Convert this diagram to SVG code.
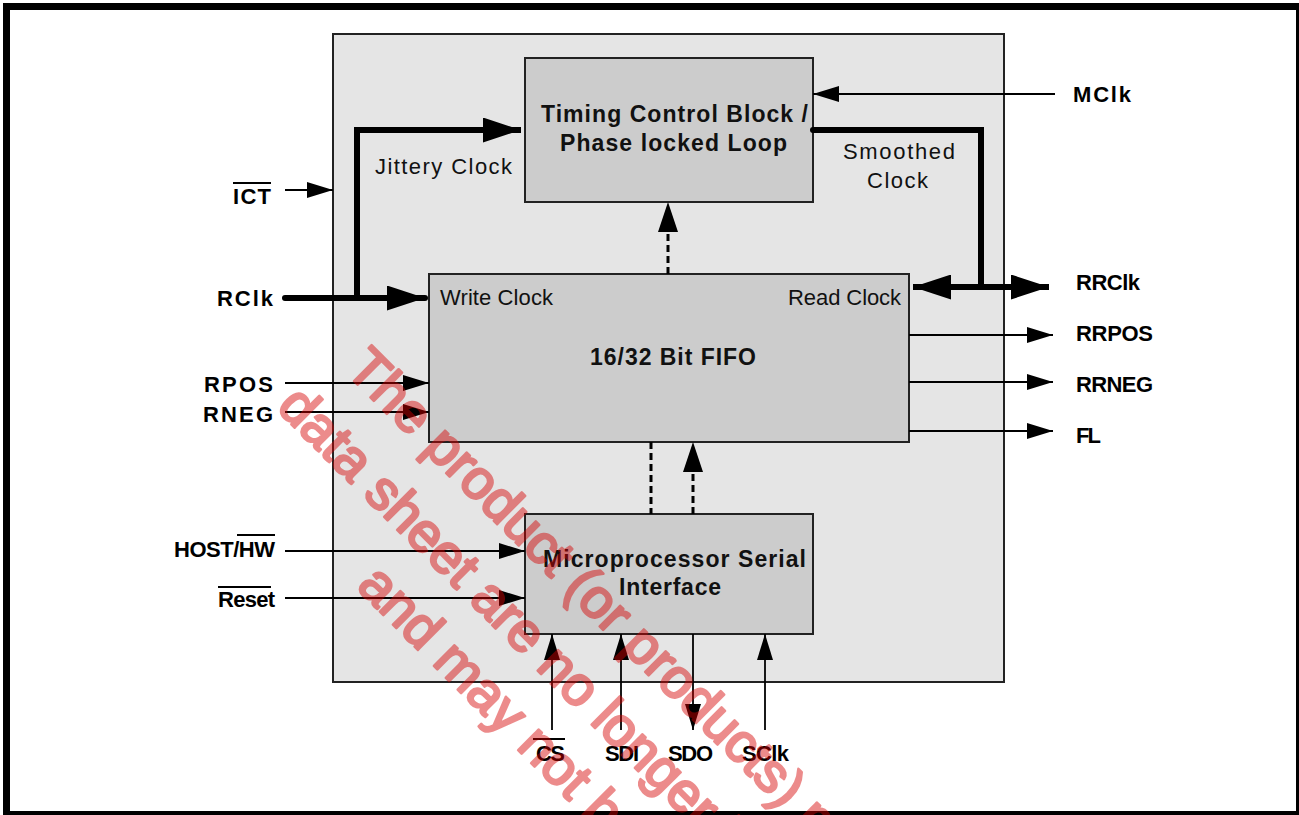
<svg xmlns="http://www.w3.org/2000/svg" width="1299" height="815" viewBox="0 0 1299 815">
<style>
.lbl{font-family:"Liberation Sans",Arial,sans-serif;font-weight:bold;font-size:22px;fill:#000}
.blk{font-family:"Liberation Sans",Arial,sans-serif;font-weight:bold;font-size:23px;fill:#111;text-anchor:middle}
.reg{font-family:"Liberation Sans",Arial,sans-serif;font-size:22px;fill:#111}
.box{fill:#cccccc;stroke:#222;stroke-width:2}
.thin{fill:none;stroke:#000;stroke-width:1.8}
.thick{fill:none;stroke:#000;stroke-width:6}
.dash{fill:none;stroke:#000;stroke-width:3;stroke-dasharray:7 4}
.ov{stroke:#000;stroke-width:2}
.wm{font-family:"Liberation Sans",Arial,sans-serif;font-size:55px;fill:rgb(215,0,0);stroke:rgb(215,0,0);stroke-width:2.6;stroke-linejoin:round}
</style>
<defs>
<marker id="a" markerUnits="userSpaceOnUse" markerWidth="26" markerHeight="16" refX="26" refY="8" orient="auto"><path d="M0,0 L26,8 L0,16 Z" fill="#000"/></marker>
<marker id="A" markerUnits="userSpaceOnUse" markerWidth="38" markerHeight="25" refX="38" refY="12.5" orient="auto"><path d="M0,0 L38,12.5 L0,25 Z" fill="#000"/></marker>
<marker id="As" markerUnits="userSpaceOnUse" markerWidth="38" markerHeight="25" refX="0" refY="12.5" orient="auto"><path d="M38,0 L0,12.5 L38,25 Z" fill="#000"/></marker>
<marker id="d" markerUnits="userSpaceOnUse" markerWidth="30" markerHeight="20" refX="30" refY="10" orient="auto"><path d="M0,0 L30,10 L0,20 Z" fill="#000"/></marker>
</defs>
<rect x="0" y="0" width="1299" height="815" fill="#fff"/>
<rect id="frame" x="6.5" y="6.5" width="1293" height="808" fill="none" stroke="#000" stroke-width="7"/>
<g id="chip"><rect x="333" y="34" width="671" height="648" fill="#e5e5e5" stroke="#222" stroke-width="2"/></g>
<g id="timing"><rect class="box" x="525" y="58" width="288" height="144"/>
<text class="blk" x="674.5" y="122" textLength="267" lengthAdjust="spacing">Timing Control Block /</text>
<text class="blk" x="673.5" y="151" textLength="227" lengthAdjust="spacing">Phase locked Loop</text></g>
<g id="fifo"><rect class="box" x="429" y="274" width="480" height="168"/>
<text class="blk" x="673" y="365" textLength="166" lengthAdjust="spacing">16/32 Bit FIFO</text>
<text class="reg" x="440" y="305" textLength="113" lengthAdjust="spacing" font-size="20">Write Clock</text>
<text class="reg" x="901" y="305" text-anchor="end" textLength="113" lengthAdjust="spacing" font-size="20">Read Clock</text></g>
<g id="micro"><rect class="box" x="525" y="514" width="288" height="120"/>
<text class="blk" x="674.5" y="567" textLength="263" lengthAdjust="spacing">Microprocessor Serial</text>
<text class="blk" x="670" y="595" textLength="102" lengthAdjust="spacing">Interface</text></g>
<g id="connectors">
<path class="thick" d="M285,298 L425,298" stroke-linecap="round" marker-end="url(#A)"/>
<path class="thick" d="M357,298 L357,130 L521,130" marker-end="url(#A)"/>
<path class="thick" d="M813,130 L981,130 L981,287" stroke-linecap="round"/>
<path class="thick" d="M913,287 L1049,287" marker-start="url(#As)" marker-end="url(#A)"/>
<path class="thin" d="M285,190 L333,190" marker-end="url(#a)"/>
<path class="thin" d="M1055,94 L813,94" marker-end="url(#a)"/>
<path class="thin" d="M285,383 L429,383" marker-end="url(#a)"/>
<path class="thin" d="M285,412 L429,412" marker-end="url(#a)"/>
<path class="thin" d="M285,551 L525,551" marker-end="url(#a)"/>
<path class="thin" d="M285,598 L525,598" marker-end="url(#a)"/>
<path class="thin" d="M909,335 L1053,335" marker-end="url(#a)"/>
<path class="thin" d="M909,382 L1053,382" marker-end="url(#a)"/>
<path class="thin" d="M909,431 L1053,431" marker-end="url(#a)"/>
<path class="thin" d="M552,730 L552,634" marker-end="url(#a)"/>
<path class="thin" d="M621,730 L621,634" marker-end="url(#a)"/>
<path class="thin" d="M693,634 L693,730" marker-end="url(#a)"/>
<path class="thin" d="M765,730 L765,634" marker-end="url(#a)"/>
<path class="dash" d="M668,274 L668,228"/>
<path d="M668,232 L668,202" stroke="none" marker-end="url(#d)"/>
<path class="dash" d="M651,442 L651,514"/>
<path class="dash" d="M693,514 L693,468"/>
<path d="M693,472 L693,442" stroke="none" marker-end="url(#d)"/>
</g>
<g id="labels">
<text class="reg" x="375" y="174" textLength="137" lengthAdjust="spacing">Jittery Clock</text>
<text class="reg" x="899" y="159" text-anchor="middle" textLength="112" lengthAdjust="spacing">Smoothed</text>
<text class="reg" x="897.5" y="188" text-anchor="middle" textLength="61" lengthAdjust="spacing">Clock</text>
<text class="lbl" x="271" y="204" text-anchor="end" textLength="38" lengthAdjust="spacing">ICT</text>
<line class="ov" x1="233" y1="183" x2="271" y2="183"/>
<text class="lbl" x="273" y="306" text-anchor="end" textLength="56" lengthAdjust="spacing">RClk</text>
<text class="lbl" x="273" y="392" text-anchor="end" textLength="69" lengthAdjust="spacing">RPOS</text>
<text class="lbl" x="273" y="422" text-anchor="end" textLength="70" lengthAdjust="spacing">RNEG</text>
<text class="lbl" x="275" y="557" text-anchor="end" textLength="101" lengthAdjust="spacing">HOST/HW</text>
<line class="ov" x1="237" y1="535" x2="275" y2="535"/>
<text class="lbl" x="275" y="607" text-anchor="end" textLength="57" lengthAdjust="spacing">Reset</text>
<line class="ov" x1="218" y1="587" x2="271" y2="587"/>
<text class="lbl" x="1073" y="102" textLength="58" lengthAdjust="spacing">MClk</text>
<text class="lbl" x="1076" y="290" textLength="64" lengthAdjust="spacing">RRClk</text>
<text class="lbl" x="1076" y="341" textLength="77" lengthAdjust="spacing">RRPOS</text>
<text class="lbl" x="1076" y="392" textLength="77" lengthAdjust="spacing">RRNEG</text>
<text class="lbl" x="1076" y="443" textLength="25" lengthAdjust="spacing">FL</text>
<text class="lbl" x="536" y="761" textLength="29" lengthAdjust="spacing">CS</text>
<line class="ov" x1="533" y1="739" x2="565" y2="739"/>
<text class="lbl" x="605" y="761" textLength="34" lengthAdjust="spacing">SDI</text>
<text class="lbl" x="668" y="761" textLength="45" lengthAdjust="spacing">SDO</text>
<text class="lbl" x="742" y="761" textLength="47" lengthAdjust="spacing">SClk</text>
</g>
<g id="watermark" transform="rotate(45)" opacity="0.45">
<text class="wm" x="505.6" y="19">The product (or products) m</text>
<text class="wm" x="483.6" y="94">data sheet are no longer l</text>
<text class="wm" x="666.8" y="164">and may not be</text>
</g>
</svg>
